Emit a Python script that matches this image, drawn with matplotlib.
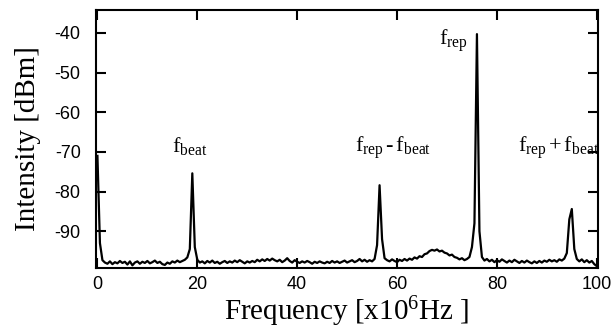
import numpy as np
import matplotlib
matplotlib.use("Agg")
import matplotlib.pyplot as plt

# spectrum, 0.5 MHz steps from 0 to 100 MHz
intensity = [
    -71.0, -93.0, -97.3, -97.9, -98.2, -97.6, -98.3, -97.8, -98.1, -97.5,  # 0 - 4.5
    -98.0, -97.7, -98.4, -97.6, -98.6, -97.9, -97.6, -98.2, -97.7, -98.0,  # 5 - 9.5
    -97.5, -98.1, -97.8, -97.4, -98.0, -97.7, -98.3, -98.5, -97.9, -98.2,  # 10 - 14.5
    -97.6, -97.9, -97.4, -97.8, -97.5, -97.2, -96.6, -94.5, -75.4, -94.0,  # 15 - 19.5
    -97.2, -97.9, -97.6, -98.1, -97.5, -97.9, -97.4, -98.0, -97.7, -98.2,  # 20 - 24.5
    -97.8, -97.5, -98.0, -97.6, -97.9, -97.4, -97.8, -97.3, -97.7, -98.1,  # 25 - 29.5
    -97.6, -97.9, -97.5, -97.8, -97.2, -97.6, -97.1, -97.5, -97.0, -97.4,  # 30 - 34.5
    -96.9, -97.3, -97.6, -97.2, -97.8, -97.4, -96.8, -97.5, -97.9, -97.3,  # 35 - 39.5
    -97.7, -98.0, -97.6, -97.9, -97.5, -97.8, -98.2, -97.7, -98.0, -97.6,  # 40 - 44.5
    -97.9, -98.1, -97.7, -98.0, -97.5, -97.9, -97.6, -98.0, -97.7, -97.4,  # 45 - 49.5
    -97.9, -97.6, -97.3, -97.8, -97.5, -97.0, -97.6, -97.2, -97.7, -97.3,  # 50 - 54.5
    -97.6, -97.0, -93.5, -78.4, -92.0, -96.8, -97.3, -97.6, -97.1, -97.5,  # 55 - 59.5
    -97.8, -97.2, -97.5, -97.0, -97.4, -96.9, -97.2, -96.6, -96.9, -96.3,  # 60 - 64.5
    -96.5, -95.8, -95.6, -95.0, -94.7, -94.9, -94.6, -95.1, -94.9, -95.4,  # 65 - 69.5
    -95.6, -96.1, -95.9, -96.5, -96.7, -97.1, -96.8, -97.3, -97.0, -96.5,  # 70 - 74.5
    -94.0, -88.0, -40.3, -90.0, -96.5, -97.4, -97.0, -97.6, -97.2, -97.8,  # 75 - 79.5
    -97.3, -97.7, -97.1, -97.5, -97.9, -97.4, -97.8, -97.2, -97.6, -98.0,  # 80 - 84.5
    -97.5, -97.9, -97.4, -97.8, -98.1, -97.6, -98.0, -97.5, -97.9, -97.4,  # 85 - 89.5
    -97.7, -97.2, -97.6, -97.3, -97.7, -97.1, -97.4, -96.9, -95.5, -87.0,  # 90 - 94.5
    -84.4, -94.5, -97.0, -97.6, -97.1, -97.8, -97.3, -97.9, -97.5, -98.3,  # 95 - 99.5
    -98.8,
]
freq = np.linspace(0, 100, len(intensity))

label_x = [15.0, 51.6, 68.4, 84.2]
label_y = [-70.0, -70.0, -43.0, -70.0]

plt.rcParams['mathtext.fontset'] = 'custom'
plt.rcParams['mathtext.rm'] = 'Liberation Serif'
plt.rcParams['mathtext.it'] = 'Liberation Serif:italic'
plt.rcParams['axes.unicode_minus'] = False

fig = plt.figure(figsize=(6.15, 3.31), dpi=100)
ax = fig.add_axes([0.156, 0.19, 0.816, 0.78])

ax.plot(freq, intensity, color='black', linewidth=1.6)

ax.set_xlim(-0.3, 100.2)
ax.set_ylim(-99.3, -34.2)
ax.set_xticks(np.arange(0, 101, 20))
ax.set_yticks(np.arange(-90, -39, 10))
ax.tick_params(direction='in', length=7, width=1.5, top=True, right=True,
               labelsize=13)
ax.tick_params(axis='x', pad=6)
ax.tick_params(axis='y', pad=11)
for lab in ax.get_xticklabels() + ax.get_yticklabels():
    lab.set_family('Liberation Sans')
for sp in ax.spines.values():
    sp.set_linewidth(1.5)

ax.set_xlabel(r'Frequency [x10$^{\mathrm{6}}$Hz ]', family='Liberation Serif',
              fontsize=21, labelpad=1)
ax.set_ylabel('Intensity [dBm]', family='Liberation Serif', fontsize=21, labelpad=10)

texts = [r'$\mathrm{f_{beat}}$',
         r'$\mathrm{f_{rep}}\,$-$\,\mathrm{f_{beat}}$',
         r'$\mathrm{f_{rep}}$',
         r'$\mathrm{f_{rep}}\,$+$\,\mathrm{f_{beat}}$']
for t, x, y in zip(texts, label_x, label_y):
    ax.text(x, y, t, family='Liberation Serif', fontsize=16, ha='left', va='baseline')

fig.savefig('out.png', dpi=100)
